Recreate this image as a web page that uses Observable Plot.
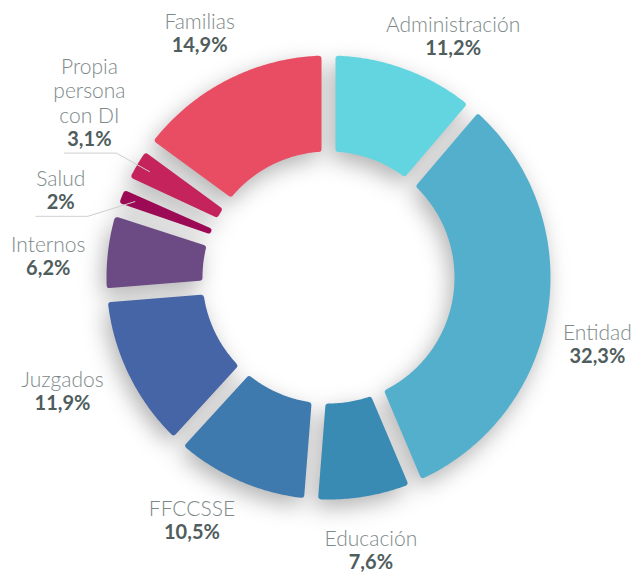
<!DOCTYPE html>
<html><head><meta charset="utf-8">
<script src="https://cdn.jsdelivr.net/npm/d3@7"></script>
<script src="https://cdn.jsdelivr.net/npm/@observablehq/plot@0.6"></script>
<style>
html,body{margin:0;padding:0;background:#fff;}
#chart{width:634px;height:572px;}
</style></head><body><div id="chart"></div>
<script>
// ---- data ----
const categories = ["Administración","Entidad","Educación","FFCCSSE","Juzgados","Internos","Salud","Propia persona con DI","Familias"];
const nameLabels = ["Administración","Entidad","Educación","FFCCSSE","Juzgados","Internos","Salud","Propia\npersona\ncon DI","Familias"];
const values = [11.2,32.3,7.6,10.5,11.9,6.2,2,3.1,14.9];
const valueLabels = ["11,2%","32,3%","7,6%","10,5%","11,9%","6,2%","2%","3,1%","14,9%"];
const colors = ["#63d5e1","#53afcb","#3a8bb4","#3f7aae","#4565a6","#6c4b84","#9c0a55","#c4245b","#e84d63"];
const leaderCategories = ["Salud","Propia persona con DI"];

// ---- layout ----
const W = 634, H = 572, CX = 328, CY = 277;
const R_OUT = 222, R_IN = 126, GAP = 14, CORNER = 3, LABEL_R = 265, LEADER_R = 208;
const LEADER_LEFT = 25, LEADER_RIGHT = 27, LEADER_DROP = 22.5;
// label nudges in screen pixels [right, down]
const labelNudge = [[33,11],[7,30],[0,15],[-31,3],[-28,1],[-17,13],[-21,13],[-11,-12],[-9,-4]];

const polar = (r, a) => ({x: r * Math.sin(a), y: r * Math.cos(a)});
const arcs = d3.pie().sort(null).value(d => d)(values);

function slicePoints(name, a0, a1) {
  const h = GAP / 2 + CORNER, ro = R_OUT - CORNER, ri = R_IN + CORNER;
  const pts = [];
  const o0 = a0 + Math.asin(h / ro), o1 = a1 - Math.asin(h / ro);
  const n = Math.max(2, Math.ceil((o1 - o0) / 0.01));
  for (let i = 0; i <= n; ++i) pts.push(polar(ro, o0 + (o1 - o0) * i / n));
  const i0 = a0 + Math.asin(h / ri), i1 = a1 - Math.asin(h / ri);
  if (i1 > i0) {
    const m = Math.max(2, Math.ceil((i1 - i0) / 0.01));
    for (let i = 0; i <= m; ++i) pts.push(polar(ri, i1 - (i1 - i0) * i / m));
  } else {
    pts.push(polar(ri, (a0 + a1) / 2));
  }
  pts.push(pts[0]);
  return pts.map(p => ({...p, name}));
}

const slicePts = arcs.flatMap((a, i) => slicePoints(categories[i], a.startAngle, a.endAngle));

const labels = arcs.map((a, i) => {
  const mid = (a.startAngle + a.endAngle) / 2;
  const p = polar(LABEL_R, mid);
  return {name: nameLabels[i], pct: valueLabels[i], cat: categories[i], mid,
          x: p.x + labelNudge[i][0], y: p.y - labelNudge[i][1]};
});

const leaderPts = labels.filter(d => leaderCategories.includes(d.cat)).flatMap(d => {
  const e = polar(LEADER_R, d.mid);
  return [
    {x: d.x - LEADER_LEFT, y: d.y - LEADER_DROP, name: d.cat},
    {x: d.x + LEADER_RIGHT, y: d.y - LEADER_DROP, name: d.cat},
    {x: e.x, y: e.y, name: d.cat}
  ];
});

const svg = Plot.plot({
  width: W, height: H, margin: 0,
  x: {domain: [-CX, W - CX], axis: null},
  y: {domain: [-(H - CY), CY], axis: null},
  color: {domain: categories, range: colors},
  style: {background: "#fff", fontFamily: "Lato"},
  marks: [
    Plot.line(slicePts, {x: "x", y: "y", z: "name", fill: "name", stroke: "name",
      strokeWidth: 2 * CORNER, strokeLinejoin: "round", strokeLinecap: "round"}),
    Plot.line(leaderPts, {x: "x", y: "y", z: "name", stroke: "#cfcfcf", strokeWidth: 1}),
    Plot.text(labels, {x: "x", y: "y", text: "name", lineAnchor: "bottom", dy: -8, lineHeight: 1.16,
      fontSize: 21, fontWeight: 300, fontFamily: "Lato", fill: "#7d8989", textAnchor: "middle"}),
    Plot.text(labels, {x: "x", y: "y", text: "pct", lineAnchor: "top", dy: 1,
      fontSize: 20, fontWeight: 700, fontFamily: "Lato", fill: "#4f5d5d", textAnchor: "middle"})
  ]
});
d3.select(svg).select("g[aria-label=line]").style("filter", "drop-shadow(-4px 8px 11px rgba(0,0,0,0.3))");
document.getElementById("chart").appendChild(svg);
</script>
</body></html>
